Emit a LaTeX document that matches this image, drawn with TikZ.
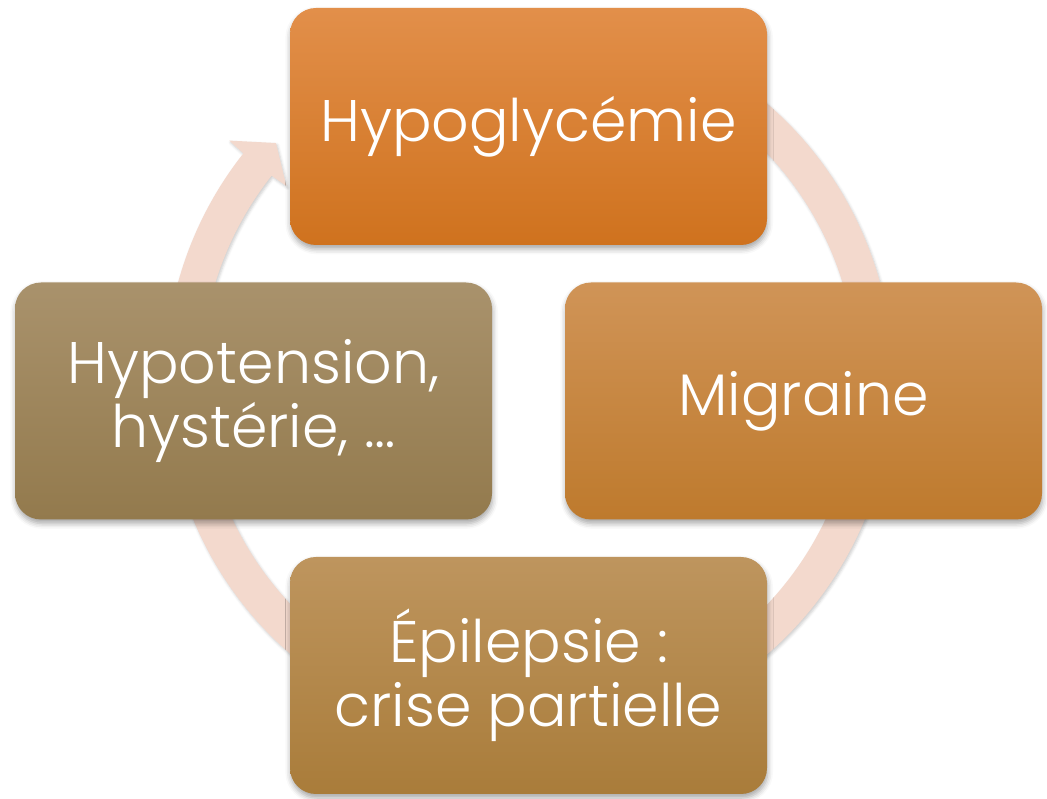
\documentclass[tikz,border=0pt]{standalone}
\usepackage{fontspec}
\setmainfont{Poppins}[UprightFont=* Light]
\usetikzlibrary{calc, shadows.blur}
\definecolor{ringpink}{RGB}{243,217,205}
\definecolor{hypotop}{RGB}{226,143,74}
\definecolor{hypobot}{RGB}{207,114,30}
\definecolor{migrtop}{RGB}{208,148,87}
\definecolor{migrbot}{RGB}{190,122,45}
\definecolor{epiltop}{RGB}{190,149,94}
\definecolor{epilbot}{RGB}{169,124,58}
\definecolor{tenstop}{RGB}{169,146,108}
\definecolor{tensbot}{RGB}{147,122,77}

\begin{document}
\begin{tikzpicture}[x=0.75pt, y=0.75pt,
	cyclebox/.style={rectangle, rounded corners=19.5pt, minimum width=357.75pt, minimum height=177.75pt,
		text=white, align=center, font=\fontsize{44}{48}\selectfont,
		blur shadow={shadow xshift=0.5pt, shadow yshift=-3pt, shadow blur radius=4pt, shadow opacity=35}}]
	\useasboundingbox (0,0) rectangle (1047,799);
	% ring with its arrow head
	\coordinate (ringc) at (529,420);
	\fill[ringpink, blur shadow={shadow xshift=1pt, shadow yshift=-1.5pt, shadow blur radius=2pt, shadow opacity=20}]
		($(ringc)+(110:364)$) arc[start angle=110, end angle=-218.3, radius=364]
		-- ($(ringc)+(141.5:383)$) -- ($(ringc)+(137:346)$) -- ($(ringc)+(141.5:310)$)
		-- ($(ringc)+(141.7:328)$) arc[start angle=-218.3, end angle=110, radius=328] -- cycle;

	\node[cyclebox, top color=hypotop, bottom color=hypobot] (hypo) at (528.5,672.5) {Hypoglycémie};
	\node[cyclebox, top color=migrtop, bottom color=migrbot] (migr) at (803.5,398) {Migraine};
	\node[cyclebox, top color=epiltop, bottom color=epilbot] (epil) at (528.5,123.5) {Épilepsie :\\crise partielle};
	\node[cyclebox, top color=tenstop, bottom color=tensbot] (tens) at (253.5,398) {Hypotension,\\hystérie, …};
\end{tikzpicture}
\end{document}
